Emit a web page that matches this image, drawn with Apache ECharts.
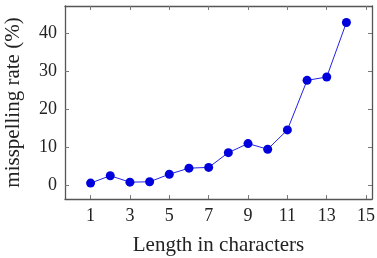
<!DOCTYPE html>
<html>
<head>
<meta charset="utf-8">
<script src="https://cdn.jsdelivr.net/npm/echarts@6/dist/echarts.min.js"></script>
<style>
  html, body { margin: 0; padding: 0; background: #fff; }
  #chart { width: 377px; height: 258px; }
</style>
</head>
<body>
<div id="chart"></div>
<script>
const lengths = [1, 2, 3, 4, 5, 6, 7, 8, 9, 10, 11, 12, 13, 14]
const rates = [0.45, 2.4, 0.7, 0.8, 2.8, 4.4, 4.6, 8.5, 10.9, 9.4, 14.5, 27.6, 28.5, 42.9]
const xTicks = [1, 3, 5, 7, 9, 11, 13, 15]
const yTicks = [0, 10, 20, 30, 40]

const font = 'Liberation Serif'
const frame = { show: true, onZero: false, lineStyle: { color: '#555', width: 1.3 } }
const tick = { show: true, inside: true, length: 4, lineStyle: { color: '#777', width: 1 } }

const chart = echarts.init(document.getElementById('chart'))
chart.setOption({
  animation: false,
  grid: { left: 65, right: 5, top: 6, bottom: 59, containLabel: false, outerBoundsMode: 'none' },
  xAxis: [
    {
      type: 'value',
      min: -0.3,
      max: 15.3,
      name: 'Length in characters',
      nameLocation: 'middle',
      nameGap: 36,
      nameTextStyle: { fontFamily: font, fontSize: 21, color: '#222' },
      axisLine: frame,
      axisTick: Object.assign({}, tick, { customValues: xTicks }),
      axisLabel: { customValues: xTicks, fontFamily: font, fontSize: 18, color: '#222', margin: 8 },
      splitLine: { show: false }
    },
    {
      type: 'value',
      position: 'top',
      min: -0.3,
      max: 15.3,
      axisLine: frame,
      axisTick: Object.assign({}, tick, { customValues: xTicks }),
      axisLabel: { show: false },
      splitLine: { show: false }
    }
  ],
  yAxis: [
    {
      type: 'value',
      min: -3.75,
      max: 47.25,
      name: 'misspelling rate (%)',
      nameLocation: 'middle',
      nameGap: 41,
      nameTextStyle: { fontFamily: font, fontSize: 21, color: '#222' },
      axisLine: frame,
      axisTick: Object.assign({}, tick, { customValues: yTicks }),
      axisLabel: { customValues: yTicks, fontFamily: font, fontSize: 18, color: '#222', margin: 8 },
      splitLine: { show: false }
    },
    {
      type: 'value',
      position: 'right',
      min: -3.75,
      max: 47.25,
      axisLine: frame,
      axisTick: Object.assign({}, tick, { customValues: yTicks }),
      axisLabel: { show: false },
      splitLine: { show: false }
    }
  ],
  series: [
    {
      type: 'line',
      data: lengths.map((x, i) => [x, rates[i]]),
      symbol: 'circle',
      symbolSize: 9,
      itemStyle: { color: '#0000dd' },
      lineStyle: { color: '#2222e6', width: 1 }
    }
  ]
})
</script>
</body>
</html>
